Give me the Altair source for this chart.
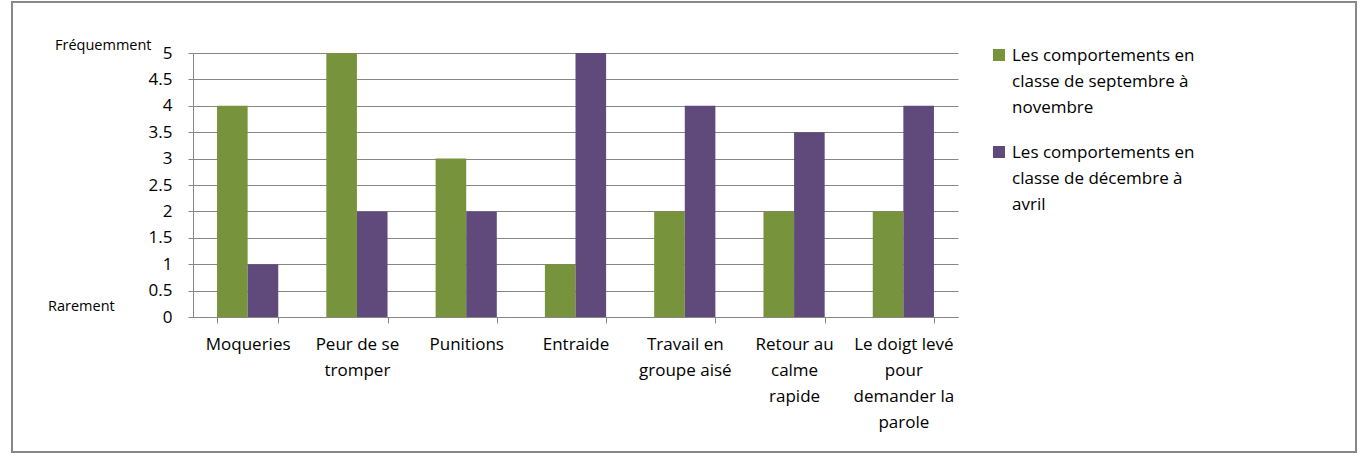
import altair as alt
import pandas as pd

categories = ["Moqueries", "Peur de se\ntromper", "Punitions", "Entraide",
              "Travail en\ngroupe aisé", "Retour au\ncalme\nrapide",
              "Le doigt levé\npour\ndemander la\nparole"]
series_names = ["Les comportements en\nclasse de septembre à\nnovembre",
                "Les comportements en\nclasse de décembre à\navril"]
sept_nov = [4, 5, 3, 1, 2, 2, 2]
dec_avr = [1, 2, 2, 5, 4, 3.5, 4]
colors = ["#77933C", "#604A7B"]
y_ticks = [0, 0.5, 1, 1.5, 2, 2.5, 3, 3.5, 4, 4.5, 5]

rows = []
for i, c in enumerate(categories):
    rows.append({"cat": c, "serie": series_names[0], "val": sept_nov[i]})
    rows.append({"cat": c, "serie": series_names[1], "val": dec_avr[i]})
df = pd.DataFrame(rows)

FONT = "Open Sans"
FS = 17
W, H = 765, 264

color_scale = alt.Scale(domain=series_names, range=colors)

bars = alt.Chart(df).mark_bar().encode(
    x=alt.X("cat:N", sort=categories, title=None,
            scale=alt.Scale(paddingInner=0.44, paddingOuter=0.22),
            axis=alt.Axis(labelAngle=0, labelExpr="split(datum.label, '\\n')",
                          labelFontSize=FS, labelFont=FONT, labelColor="#000000",
                          labelLineHeight=26, labelPadding=13, tickSize=6,
                          tickBand="extent", tickColor="#868686", domainColor="#868686",
                          labelBaseline="top", labelLimit=200)),
    xOffset=alt.XOffset("serie:N", sort=series_names),
    y=alt.Y("val:Q", title=None,
            scale=alt.Scale(domain=[0, 5], nice=False),
            axis=alt.Axis(values=y_ticks, format="~g", labelFontSize=FS, labelFont=FONT,
                          labelColor="#000000", tickSize=5, labelPadding=16,
                          tickColor="#868686", domainColor="#868686",
                          gridColor="#868686", gridOpacity=1, grid=True)),
    color=alt.Color("serie:N", sort=series_names, scale=color_scale, legend=None),
)

leg_df = pd.DataFrame({"serie": series_names})
leg_y = alt.Y("serie:N", sort=series_names, axis=None,
              scale=alt.Scale(type="point", padding=0, domain=series_names, range=[2, 99]))
leg_sq = alt.Chart(leg_df).mark_square(size=144, opacity=1).encode(
    x=alt.value(806), y=leg_y,
    color=alt.Color("serie:N", scale=color_scale, legend=None))
leg_txt = alt.Chart(leg_df).transform_calculate(
    lines="split(datum.serie, '\\n')"
).mark_text(font=FONT, fontSize=FS, align="left", baseline="top", lineHeight=26,
            color="#000000", dy=-7).encode(
    x=alt.value(819), y=leg_y, text="lines:N")

labels_df = pd.DataFrame({"t": ["Fréquemment", "Rarement"], "px": [-138, -145], "py": [-7, 254]})
side = alt.Chart(labels_df).mark_text(font=FONT, fontSize=14.5, align="left",
                                      baseline="middle", color="#000000").encode(
    x=alt.X("px:Q", scale=None), y=alt.Y("py:Q", scale=None), text="t:N")

frame = alt.Chart(pd.DataFrame({"a": [0]})).mark_rect(
    fill=None, stroke="#888888", strokeWidth=2).encode(
    x=alt.value(-181), x2=alt.value(1163), y=alt.value(-51), y2=alt.value(399))

legend = alt.layer(leg_sq, leg_txt)

chart = alt.layer(frame, bars, side, legend).resolve_scale(y="independent").properties(
    width=W, height=H,
    padding={"left": 193, "top": 53, "right": 410, "bottom": 139},
    autosize=alt.AutoSizeParams(type="none"),
    background="white",
).configure_view(stroke=None)

chart.save("out.html", embed_options={"renderer": "svg", "actions": False})
